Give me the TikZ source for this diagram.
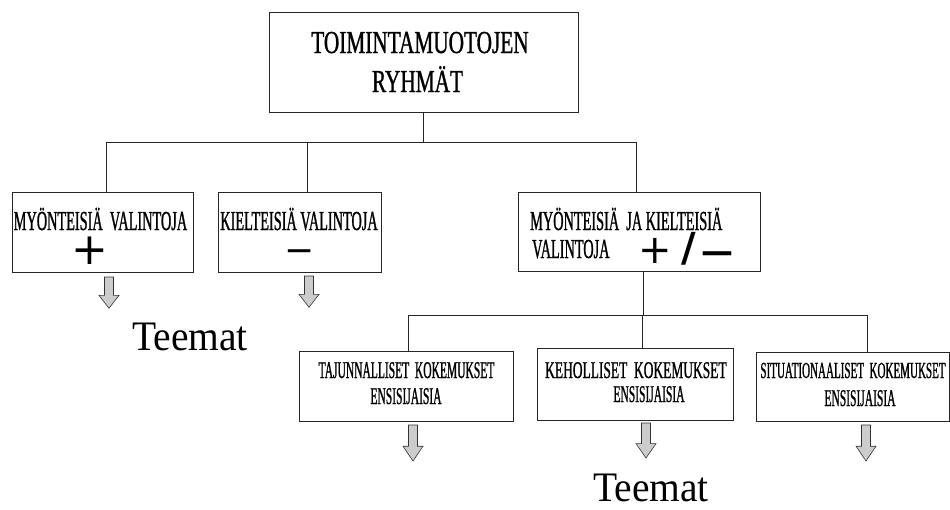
\documentclass[tikz,border=0pt]{standalone}
\usepackage{fontspec}
\setmainfont{Liberation Serif}
\newfontfamily\condfont[FakeStretch=0.52, FakeBold=0.9]{Liberation Serif}
\newfontfamily\lowfont[FakeStretch=0.48, FakeBold=0.9]{Liberation Serif}
\newfontfamily\lowwidefont[FakeStretch=0.56, FakeBold=0.9]{Liberation Serif}
\newfontfamily\headfont[FakeStretch=0.665, FakeBold=0.9]{Liberation Serif}
\newfontfamily\themefont[FakeStretch=0.94]{Liberation Serif}
\newfontfamily\symfont{DejaVu Sans}
\usetikzlibrary{calc}

\tikzset{
  frame/.style={draw=black!85, line width=0.9pt, inner sep=0pt, rectangle},
  wire/.style={draw=black!85, line width=0.9pt},
  headtxt/.style={anchor=base, inner sep=0pt, font=\headfont\fontsize{32}{32}\selectfont},
  midtxt/.style={anchor=base, inner sep=0pt, font=\condfont\fontsize{27.5}{27.5}\selectfont},
  lowtxt/.style={anchor=base, inner sep=0pt, font=\lowfont\fontsize{24}{24}\selectfont},
  signtxt/.style={anchor=center, inner sep=0pt},
  themetxt/.style={anchor=base, inner sep=0pt, font=\themefont\fontsize{42}{42}\selectfont},
  pics/downarrow/.style={code={
    \path[draw=black!80, line width=0.6pt, fill=gray!40]
      (-4.5,0) -- (4.5,0) -- (4.5,20) -- (10,20) -- (0,34) -- (-10,20) -- (-4.5,20) -- cycle;
  }}
}

\begin{document}
\begin{tikzpicture}[x=1pt, y=-1pt]
\useasboundingbox (0,0) rectangle (950,509);

% boxes
\node[frame, minimum width=309pt, minimum height=100pt] (top) at (423.5,62) {};
\node[frame, minimum width=181pt, minimum height=80pt] (pos) at (102.5,232) {};
\node[frame, minimum width=163pt, minimum height=80pt] (neg) at (299.5,232) {};
\node[frame, minimum width=242pt, minimum height=79pt] (both) at (639,231.5) {};
\node[frame, minimum width=214pt, minimum height=70pt] (taj) at (406,386) {};
\node[frame, minimum width=196pt, minimum height=72pt] (keh) at (635,384) {};
\node[frame, minimum width=193pt, minimum height=69pt] (sit) at (852.5,386.5) {};

% box texts
\node[headtxt] (topA) at (420,53) {TOIMINTAMUOTOJEN};
\node[headtxt] (topB) at (417.5,92) {RYHMÄT};

\node[midtxt] (posA) at (100.5,230) {MYÖNTEISIÄ\ \ VALINTOJA};
\node[signtxt, font=\symfont\fontsize{44}{44}\selectfont] (posS) at (90,251) {+};
\node[midtxt] (negA) at (299,230) {KIELTEISIÄ\ VALINTOJA};
\node[signtxt, font=\symfont\fontsize{36}{36}\selectfont] (negS) at (300,256) {−};

\node[midtxt, anchor=base west] (bothA) at (530,230) {MYÖNTEISIÄ\ \ JA\ KIELTEISIÄ};
\node[midtxt, anchor=base west] (bothB) at (532,258) {VALINTOJA};
\node[signtxt, font=\symfont\fontsize{40}{40}\selectfont] (bothP) at (655,251) {+};
\node[signtxt, font=\symfont\bfseries\fontsize{40}{40}\selectfont] (bothL) at (689,249) {/};
\node[signtxt, font=\symfont\bfseries\fontsize{32}{32}\selectfont] (bothM) at (717.5,257) {—};

\node[lowtxt] (tajA) at (406.5,378) {TAJUNNALLISET\ \ KOKEMUKSET};
\node[lowtxt] (tajB) at (406,404) {ENSISIJAISIA};
\node[lowtxt, font=\lowwidefont\fontsize{24}{24}\selectfont, anchor=base west] (kehA) at (545,378) {KEHOLLISET\ \ KOKEMUKSET};
\node[lowtxt] (kehB) at (649,402) {ENSISIJAISIA};
\node[lowtxt, font=\lowfont\fontsize{23}{23}\selectfont] (sitA) at (853,378) {SITUATIONAALISET\ \ KOKEMUKSET};
\node[lowtxt] (sitB) at (860,406) {ENSISIJAISIA};

% themes
\node[themetxt] (themeL) at (190,350) {Teemat};
\node[themetxt] (themeR) at (651,501) {Teemat};

% upper tree
\coordinate (busL) at (106,142);
\coordinate (busR) at (636,142);
\coordinate (busN) at (307,142);
\draw[wire] (busL) -- (busR);
\draw[wire] (top.south) -- (top.south |- busL);
\draw[wire] (busL) -- (busL |- pos.north);
\draw[wire] (busN) -- (busN |- neg.north);
\draw[wire] (busR) -- (busR |- both.north);

% lower tree
\coordinate (lowJ) at (643,315);
\coordinate (lowL) at (408,315);
\coordinate (lowM) at (642,315);
\coordinate (lowR) at (867,315);
\draw[wire] (lowJ |- both.south) -- (lowJ);
\draw[wire] (lowL) -- (lowR);
\draw[wire] (lowL) -- (lowL |- taj.north);
\draw[wire] (lowM) -- (lowM |- keh.north);
\draw[wire] (lowR) -- (lowR |- sit.north);

% block arrows towards the themes
\pic[yscale=0.92] (arrPos) at (109,277) {downarrow};
\pic[yscale=0.92] (arrNeg) at (309,276) {downarrow};
\pic[yscale=1.06] (arrTaj) at (413,425) {downarrow};
\pic[yscale=1.03] (arrKeh) at (646,423) {downarrow};
\pic[yscale=1.06] (arrSit) at (866,425) {downarrow};
\end{tikzpicture}
\end{document}
